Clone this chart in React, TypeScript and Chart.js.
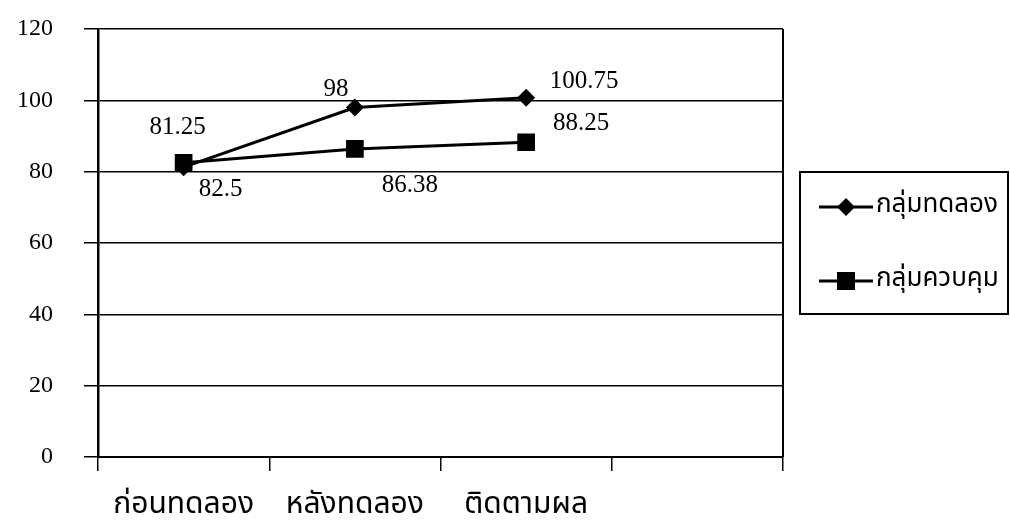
import React, { useEffect, useRef } from "react";
import { Chart, registerables } from "chart.js";

Chart.register(...registerables);

const categories = ["ก่อนทดลอง", "หลังทดลอง", "ติดตามผล", ""];
const experimentalName = "กลุ่มทดลอง";
const controlName = "กลุ่มควบคุม";
const experimentalValues = [81.25, 98, 100.75];
const controlValues = [82.5, 86.38, 88.25];
const experimentalLabels = ["81.25", "98", "100.75"];
const controlLabels = ["82.5", "86.38", "88.25"];
const yTicks = [0, 20, 40, 60, 80, 100, 120];

const NUM_FONT = "'Liberation Serif', 'Times New Roman', serif";
const THAI_FONT = "'Noto Sans Thai', 'Noto Sans', 'DejaVu Sans', sans-serif";

// label offsets (dx, dy) relative to the point, per dataset
const expOffsets = [[-6, -40], [-19, -18], [58, -16]];
const ctlOffsets = [[37, 27], [55, 37], [55, -19]];

export default function App() {
  const ref = useRef<HTMLCanvasElement | null>(null);
  useEffect(() => {
    if (!ref.current) return;
    const labelPlugin = {
      id: "valueLabels",
      afterDatasetsDraw(chart: any) {
        const ctx = chart.ctx;
        ctx.save();
        ctx.fillStyle = "#000";
        ctx.font = `25px ${NUM_FONT}`;
        ctx.textAlign = "center";
        ctx.textBaseline = "middle";
        const sets = [
          { idx: 1, labels: experimentalLabels, offs: expOffsets },
          { idx: 0, labels: controlLabels, offs: ctlOffsets },
        ];
        sets.forEach((s) => {
          const meta = chart.getDatasetMeta(s.idx);
          meta.data.forEach((pt: any, i: number) => {
            if (s.labels[i] === undefined) return;
            ctx.fillText(s.labels[i], pt.x + s.offs[i][0], pt.y + s.offs[i][1]);
          });
        });
        ctx.restore();
      },
    };
    const framePlugin = {
      id: "frame",
      afterDraw(chart: any) {
        const ctx = chart.ctx;
        const a = chart.chartArea;
        ctx.save();
        ctx.strokeStyle = "#000";
        ctx.lineWidth = 2;
        ctx.beginPath();
        ctx.moveTo(a.right, a.top);
        ctx.lineTo(a.right, a.bottom);
        ctx.stroke();
        // legend
        const lx = 800, ly = 172, lw = 208, lh = 142;
        ctx.lineWidth = 2;
        ctx.strokeRect(lx, ly, lw, lh);
        const rows = [
          { y: 207, name: experimentalName, style: "diamond" },
          { y: 281, name: controlName, style: "square" },
        ];
        rows.forEach((r) => {
          ctx.lineWidth = 3;
          ctx.beginPath();
          ctx.moveTo(819, r.y);
          ctx.lineTo(873, r.y);
          ctx.stroke();
          ctx.fillStyle = "#000";
          ctx.beginPath();
          if (r.style === "diamond") {
            ctx.moveTo(846 - 9, r.y);
            ctx.lineTo(846, r.y - 9);
            ctx.lineTo(846 + 9, r.y);
            ctx.lineTo(846, r.y + 9);
            ctx.closePath();
          } else {
            ctx.rect(846 - 9, r.y - 9, 18, 18);
          }
          ctx.fill();
          ctx.font = `26px ${THAI_FONT}`;
          ctx.textAlign = "left";
          ctx.textBaseline = "middle";
          ctx.fillText(r.name, 876, r.y);
        });
        ctx.restore();
      },
    };
    const chart = new Chart(ref.current, {
      type: "line",
      data: {
        labels: categories,
        datasets: [
          {
            label: controlName,
            data: controlValues,
            borderColor: "#000",
            backgroundColor: "#000",
            borderWidth: 3,
            pointStyle: "rect",
            pointRadius: 12.5,
            pointBorderWidth: 0,
            tension: 0,
            order: 0,
          },
          {
            label: experimentalName,
            data: experimentalValues,
            borderColor: "#000",
            backgroundColor: "#000",
            borderWidth: 3,
            pointStyle: "rectRot",
            pointRadius: 9,
            pointBorderWidth: 0,
            tension: 0,
            order: 1,
          },
        ],
      },
      options: {
        animation: false,
        responsive: false,
        events: [],
        layout: { padding: { top: 29, right: 227, left: 0, bottom: 0 } },
        plugins: {
          legend: { display: false },
          tooltip: { enabled: false },
        },
        scales: {
          x: {
            type: "category",
            offset: true,
            grid: {
              offset: true,
              drawOnChartArea: false,
              drawTicks: true,
              tickLength: 14,
              color: "#000",
              lineWidth: 1.5,
            },
            border: { display: true, color: "#000", width: 2 },
            ticks: {
              color: "#000",
              font: { family: THAI_FONT, size: 30 },
              padding: 18,
              maxRotation: 0,
              autoSkip: false,
            },
            afterFit(scale: any) {
              scale.height = 70;
            },
          },
          y: {
            min: 0,
            max: 120,
            afterBuildTicks(scale: any) {
              scale.ticks = yTicks.map((v) => ({ value: v }));
            },
            grid: {
              color: "#000",
              lineWidth: 1.5,
              drawTicks: true,
              tickLength: 14,
            },
            border: { display: true, color: "#000", width: 2.5 },
            ticks: {
              color: "#000",
              font: { family: NUM_FONT, size: 24 },
              padding: 31,
            },
            afterFit(scale: any) {
              scale.width = 98;
              scale.paddingTop = 0;
              scale.paddingBottom = 0;
            },
          },
        },
      },
      plugins: [labelPlugin, framePlugin],
    });
    return () => chart.destroy();
  }, []);
  return (
    <div style={{ position: "absolute", left: 0, top: 0, width: 1010, height: 527, background: "#fff" }}>
      <canvas ref={ref} width={1010} height={527} style={{ width: 1010, height: 527 }} />
    </div>
  );
}
